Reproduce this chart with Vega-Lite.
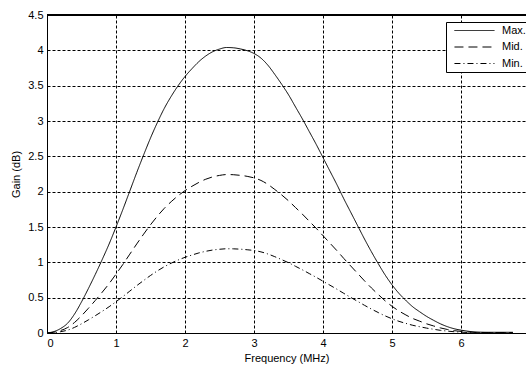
{
  "$schema": "https://vega.github.io/schema/vega-lite/v6.json",
  "autosize": {"type": "none"},
  "padding": {"left": 47, "top": 15, "right": 0, "bottom": 34},
  "width": 479,
  "height": 318,
  "background": "white",
  "config": {
    "view": {"stroke": null},
    "font": "Liberation Sans",
    "axis": {"labelFont": "Liberation Sans", "titleFont": "Liberation Sans", "labelFontSize": 11, "titleFontSize": 11, "titleFontWeight": "normal", "labelColor": "black", "titleColor": "black", "domainColor": "black", "ticks": false, "labelPadding": 4}
  },
  "data": {"values": [
    {"f":0,"s":"Max.","g":0},{"f":0.1,"s":"Max.","g":0.02},{"f":0.2,"s":"Max.","g":0.065},{"f":0.3,"s":"Max.","g":0.14},{"f":0.4,"s":"Max.","g":0.27},{"f":0.5,"s":"Max.","g":0.44},{"f":0.6,"s":"Max.","g":0.63},{"f":0.7,"s":"Max.","g":0.83},{"f":0.8,"s":"Max.","g":1.04},{"f":0.9,"s":"Max.","g":1.26},{"f":1.0,"s":"Max.","g":1.50},{"f":1.1,"s":"Max.","g":1.75},{"f":1.2,"s":"Max.","g":2.01},{"f":1.3,"s":"Max.","g":2.27},{"f":1.4,"s":"Max.","g":2.52},{"f":1.5,"s":"Max.","g":2.76},{"f":1.6,"s":"Max.","g":2.98},{"f":1.7,"s":"Max.","g":3.18},{"f":1.8,"s":"Max.","g":3.35},{"f":1.9,"s":"Max.","g":3.50},{"f":2.0,"s":"Max.","g":3.63},{"f":2.1,"s":"Max.","g":3.74},{"f":2.2,"s":"Max.","g":3.84},{"f":2.3,"s":"Max.","g":3.92},{"f":2.4,"s":"Max.","g":3.98},{"f":2.5,"s":"Max.","g":4.018},{"f":2.6,"s":"Max.","g":4.04},{"f":2.7,"s":"Max.","g":4.036},{"f":2.8,"s":"Max.","g":4.02},{"f":2.9,"s":"Max.","g":3.995},{"f":3.0,"s":"Max.","g":3.955},{"f":3.1,"s":"Max.","g":3.89},{"f":3.2,"s":"Max.","g":3.79},{"f":3.3,"s":"Max.","g":3.66},{"f":3.4,"s":"Max.","g":3.52},{"f":3.5,"s":"Max.","g":3.37},{"f":3.6,"s":"Max.","g":3.20},{"f":3.7,"s":"Max.","g":3.03},{"f":3.8,"s":"Max.","g":2.85},{"f":3.9,"s":"Max.","g":2.67},{"f":4.0,"s":"Max.","g":2.48},{"f":4.1,"s":"Max.","g":2.29},{"f":4.2,"s":"Max.","g":2.10},{"f":4.3,"s":"Max.","g":1.90},{"f":4.4,"s":"Max.","g":1.71},{"f":4.5,"s":"Max.","g":1.52},{"f":4.6,"s":"Max.","g":1.33},{"f":4.7,"s":"Max.","g":1.15},{"f":4.8,"s":"Max.","g":0.98},{"f":4.9,"s":"Max.","g":0.82},{"f":5.0,"s":"Max.","g":0.68},{"f":5.1,"s":"Max.","g":0.56},{"f":5.2,"s":"Max.","g":0.46},{"f":5.3,"s":"Max.","g":0.37},{"f":5.4,"s":"Max.","g":0.30},{"f":5.5,"s":"Max.","g":0.235},{"f":5.6,"s":"Max.","g":0.18},{"f":5.7,"s":"Max.","g":0.13},{"f":5.8,"s":"Max.","g":0.09},{"f":5.9,"s":"Max.","g":0.06},{"f":6.0,"s":"Max.","g":0.04},{"f":6.1,"s":"Max.","g":0.025},{"f":6.2,"s":"Max.","g":0.015},{"f":6.4,"s":"Max.","g":0.01},{"f":6.75,"s":"Max.","g":0.01},
    {"f":0,"s":"Mid.","g":0},{"f":0.1,"s":"Mid.","g":0.011},{"f":0.2,"s":"Mid.","g":0.036},{"f":0.3,"s":"Mid.","g":0.078},{"f":0.4,"s":"Mid.","g":0.15},{"f":0.5,"s":"Mid.","g":0.244},{"f":0.6,"s":"Mid.","g":0.35},{"f":0.7,"s":"Mid.","g":0.461},{"f":0.8,"s":"Mid.","g":0.577},{"f":0.9,"s":"Mid.","g":0.699},{"f":1.0,"s":"Mid.","g":0.833},{"f":1.1,"s":"Mid.","g":0.971},{"f":1.2,"s":"Mid.","g":1.116},{"f":1.3,"s":"Mid.","g":1.26},{"f":1.4,"s":"Mid.","g":1.399},{"f":1.5,"s":"Mid.","g":1.532},{"f":1.6,"s":"Mid.","g":1.654},{"f":1.7,"s":"Mid.","g":1.765},{"f":1.8,"s":"Mid.","g":1.859},{"f":1.9,"s":"Mid.","g":1.943},{"f":2.0,"s":"Mid.","g":2.015},{"f":2.1,"s":"Mid.","g":2.076},{"f":2.2,"s":"Mid.","g":2.131},{"f":2.3,"s":"Mid.","g":2.176},{"f":2.4,"s":"Mid.","g":2.209},{"f":2.5,"s":"Mid.","g":2.23},{"f":2.6,"s":"Mid.","g":2.242},{"f":2.7,"s":"Mid.","g":2.24},{"f":2.8,"s":"Mid.","g":2.231},{"f":2.9,"s":"Mid.","g":2.217},{"f":3.0,"s":"Mid.","g":2.195},{"f":3.1,"s":"Mid.","g":2.159},{"f":3.2,"s":"Mid.","g":2.103},{"f":3.3,"s":"Mid.","g":2.031},{"f":3.4,"s":"Mid.","g":1.954},{"f":3.5,"s":"Mid.","g":1.87},{"f":3.6,"s":"Mid.","g":1.776},{"f":3.7,"s":"Mid.","g":1.682},{"f":3.8,"s":"Mid.","g":1.582},{"f":3.9,"s":"Mid.","g":1.482},{"f":4.0,"s":"Mid.","g":1.376},{"f":4.1,"s":"Mid.","g":1.271},{"f":4.2,"s":"Mid.","g":1.166},{"f":4.3,"s":"Mid.","g":1.055},{"f":4.4,"s":"Mid.","g":0.949},{"f":4.5,"s":"Mid.","g":0.844},{"f":4.6,"s":"Mid.","g":0.738},{"f":4.7,"s":"Mid.","g":0.638},{"f":4.8,"s":"Mid.","g":0.544},{"f":4.9,"s":"Mid.","g":0.455},{"f":5.0,"s":"Mid.","g":0.377},{"f":5.1,"s":"Mid.","g":0.311},{"f":5.2,"s":"Mid.","g":0.255},{"f":5.3,"s":"Mid.","g":0.205},{"f":5.4,"s":"Mid.","g":0.167},{"f":5.5,"s":"Mid.","g":0.13},{"f":5.6,"s":"Mid.","g":0.1},{"f":5.7,"s":"Mid.","g":0.072},{"f":5.8,"s":"Mid.","g":0.05},{"f":5.9,"s":"Mid.","g":0.033},{"f":6.0,"s":"Mid.","g":0.022},{"f":6.1,"s":"Mid.","g":0.014},{"f":6.2,"s":"Mid.","g":0.008},{"f":6.4,"s":"Mid.","g":0.006},{"f":6.75,"s":"Mid.","g":0.006},
    {"f":0,"s":"Min.","g":0},{"f":0.1,"s":"Min.","g":0.006},{"f":0.2,"s":"Min.","g":0.019},{"f":0.3,"s":"Min.","g":0.041},{"f":0.4,"s":"Min.","g":0.08},{"f":0.5,"s":"Min.","g":0.13},{"f":0.6,"s":"Min.","g":0.186},{"f":0.7,"s":"Min.","g":0.245},{"f":0.8,"s":"Min.","g":0.307},{"f":0.9,"s":"Min.","g":0.372},{"f":1.0,"s":"Min.","g":0.443},{"f":1.1,"s":"Min.","g":0.516},{"f":1.2,"s":"Min.","g":0.593},{"f":1.3,"s":"Min.","g":0.67},{"f":1.4,"s":"Min.","g":0.743},{"f":1.5,"s":"Min.","g":0.814},{"f":1.6,"s":"Min.","g":0.879},{"f":1.7,"s":"Min.","g":0.938},{"f":1.8,"s":"Min.","g":0.988},{"f":1.9,"s":"Min.","g":1.033},{"f":2.0,"s":"Min.","g":1.071},{"f":2.1,"s":"Min.","g":1.103},{"f":2.2,"s":"Min.","g":1.133},{"f":2.3,"s":"Min.","g":1.156},{"f":2.4,"s":"Min.","g":1.174},{"f":2.5,"s":"Min.","g":1.185},{"f":2.6,"s":"Min.","g":1.192},{"f":2.7,"s":"Min.","g":1.191},{"f":2.8,"s":"Min.","g":1.186},{"f":2.9,"s":"Min.","g":1.178},{"f":3.0,"s":"Min.","g":1.167},{"f":3.1,"s":"Min.","g":1.148},{"f":3.2,"s":"Min.","g":1.118},{"f":3.3,"s":"Min.","g":1.08},{"f":3.4,"s":"Min.","g":1.038},{"f":3.5,"s":"Min.","g":0.994},{"f":3.6,"s":"Min.","g":0.944},{"f":3.7,"s":"Min.","g":0.894},{"f":3.8,"s":"Min.","g":0.841},{"f":3.9,"s":"Min.","g":0.788},{"f":4.0,"s":"Min.","g":0.732},{"f":4.1,"s":"Min.","g":0.676},{"f":4.2,"s":"Min.","g":0.62},{"f":4.3,"s":"Min.","g":0.561},{"f":4.4,"s":"Min.","g":0.504},{"f":4.5,"s":"Min.","g":0.448},{"f":4.6,"s":"Min.","g":0.392},{"f":4.7,"s":"Min.","g":0.339},{"f":4.8,"s":"Min.","g":0.289},{"f":4.9,"s":"Min.","g":0.242},{"f":5.0,"s":"Min.","g":0.201},{"f":5.1,"s":"Min.","g":0.165},{"f":5.2,"s":"Min.","g":0.136},{"f":5.3,"s":"Min.","g":0.109},{"f":5.4,"s":"Min.","g":0.089},{"f":5.5,"s":"Min.","g":0.069},{"f":5.6,"s":"Min.","g":0.053},{"f":5.7,"s":"Min.","g":0.038},{"f":5.8,"s":"Min.","g":0.027},{"f":5.9,"s":"Min.","g":0.018},{"f":6.0,"s":"Min.","g":0.012},{"f":6.1,"s":"Min.","g":0.007},{"f":6.2,"s":"Min.","g":0.004},{"f":6.4,"s":"Min.","g":0.003},{"f":6.75,"s":"Min.","g":0.003}
  ]},
  "encoding": {
    "x": {
      "field": "f", "type": "quantitative",
      "scale": {"domain": [0, 6.94], "nice": false, "zero": false},
      "axis": {"title": "Frequency (MHz)", "values": [0,1,2,3,4,5,6], "format": "~g", "grid": true, "gridColor": "black", "gridDash": [3,2], "gridOpacity": 1, "gridWidth": 1, "titlePadding": 4}
    },
    "y": {
      "field": "g", "type": "quantitative",
      "scale": {"domain": [0, 4.5], "nice": false},
      "axis": {"title": "Gain (dB)", "values": [0,0.5,1,1.5,2,2.5,3,3.5,4,4.5], "format": "~g", "grid": true, "gridColor": "black", "gridDash": [3,2], "gridOpacity": 1, "gridWidth": 1, "titlePadding": 6}
    }
  },
  "layer": [
    {
      "mark": {"type": "line", "color": "black", "strokeWidth": 1, "interpolate": "monotone", "clip": true},
      "encoding": {
        "strokeDash": {
          "field": "s", "type": "nominal",
          "scale": {"domain": ["Max.", "Mid.", "Min."], "range": [[1,0],[9,5],[6,3,1,3]]},
          "legend": {
            "title": null, "orient": "none", "legendX": 399, "legendY": 7,
            "fillColor": "white", "strokeColor": "black", "padding": 3,
            "symbolType": "M-1,0H11", "symbolSize": 44.4, "symbolStrokeWidth": 1, "symbolStrokeColor": "black", "symbolFillColor": "transparent", "symbolOffset": 3.3,
            "labelFont": "Liberation Sans", "labelFontSize": 11, "labelColor": "black", "labelOffset": 38.7, "rowPadding": 4.5
          }
        }
      }
    },
    {
      "mark": {"type": "rule", "color": "black", "strokeWidth": 1},
      "encoding": {"x": null, "y": {"datum": 4.5, "type": "quantitative"}}
    }
  ]
}
